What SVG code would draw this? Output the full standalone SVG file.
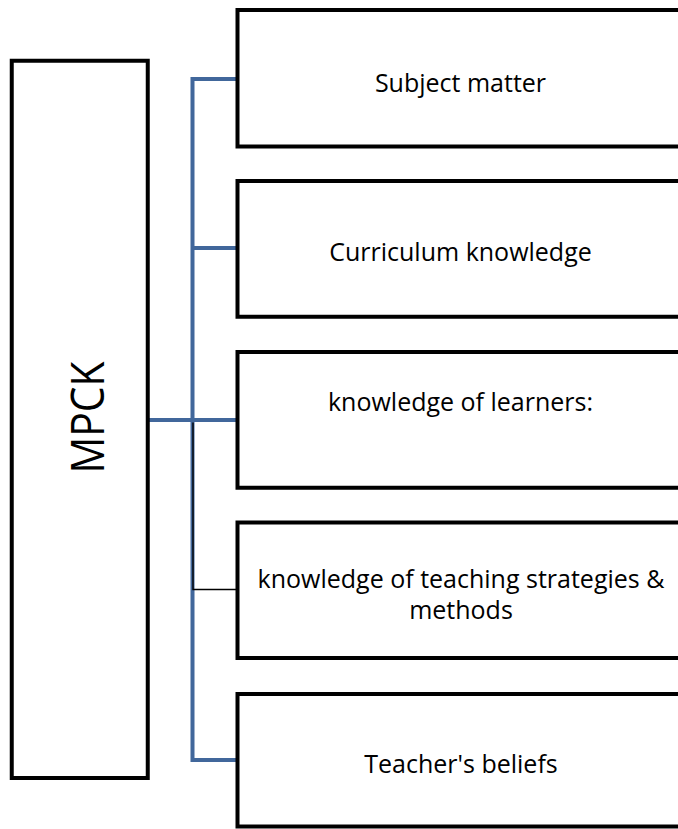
<svg xmlns="http://www.w3.org/2000/svg" width="678" height="829" viewBox="0 0 678 829">
  <style>
    .box { fill: #ffffff; stroke: #000000; stroke-width: 4; stroke-linejoin: miter; }
    .label { font-family: "Open Sans", "Noto Sans", sans-serif; font-size: 25px; fill: #000000; text-anchor: middle; }
    .tree { fill: none; stroke: #41679b; stroke-width: 4; stroke-linejoin: miter; stroke-linecap: butt; }
    .thin { fill: none; stroke: #000000; stroke-width: 1.4; }
  </style>
  <rect x="0" y="0" width="678" height="829" fill="#ffffff"/>

  <!-- connectors: blue bus with branches, thin black branch to the fourth box -->
  <g id="connectors">
    <path class="tree" d="M237.5,79 H192.5 V760 H237.5"/>
    <path class="tree" d="M192.5,248 H237.5"/>
    <path class="tree" d="M148,420 H237.5"/>
    <path class="thin" d="M193,422.5 V589.5 H237.5"/>
  </g>

  <g id="mpck">
    <rect class="box" x="11.75" y="60.75" width="136" height="717.25"/>
    <text class="label" transform="translate(104,417.5) rotate(-90)" x="0" y="0" style="font-size:45px" textLength="112" lengthAdjust="spacingAndGlyphs">MPCK</text>
  </g>

  <g id="subject-matter">
    <rect class="box" x="237.5" y="10" width="460" height="136.5"/>
    <text class="label" x="460.5" y="91.5">Subject matter</text>
  </g>

  <g id="curriculum-knowledge">
    <rect class="box" x="237.5" y="181" width="460" height="135.75"/>
    <text class="label" x="460.5" y="261">Curriculum knowledge</text>
  </g>

  <g id="knowledge-of-learners">
    <rect class="box" x="237.5" y="352" width="460" height="135.75"/>
    <text class="label" x="460.5" y="411">knowledge of learners:</text>
  </g>

  <g id="teaching-strategies">
    <rect class="box" x="237.5" y="522.5" width="460" height="135.5"/>
    <text class="label" x="461" y="587.5">knowledge of teaching strategies &amp;</text>
    <text class="label" x="461" y="618.5">methods</text>
  </g>

  <g id="teachers-beliefs">
    <rect class="box" x="237.5" y="694" width="460" height="132.5"/>
    <text class="label" x="461" y="772.5">Teacher's beliefs</text>
  </g>
</svg>
